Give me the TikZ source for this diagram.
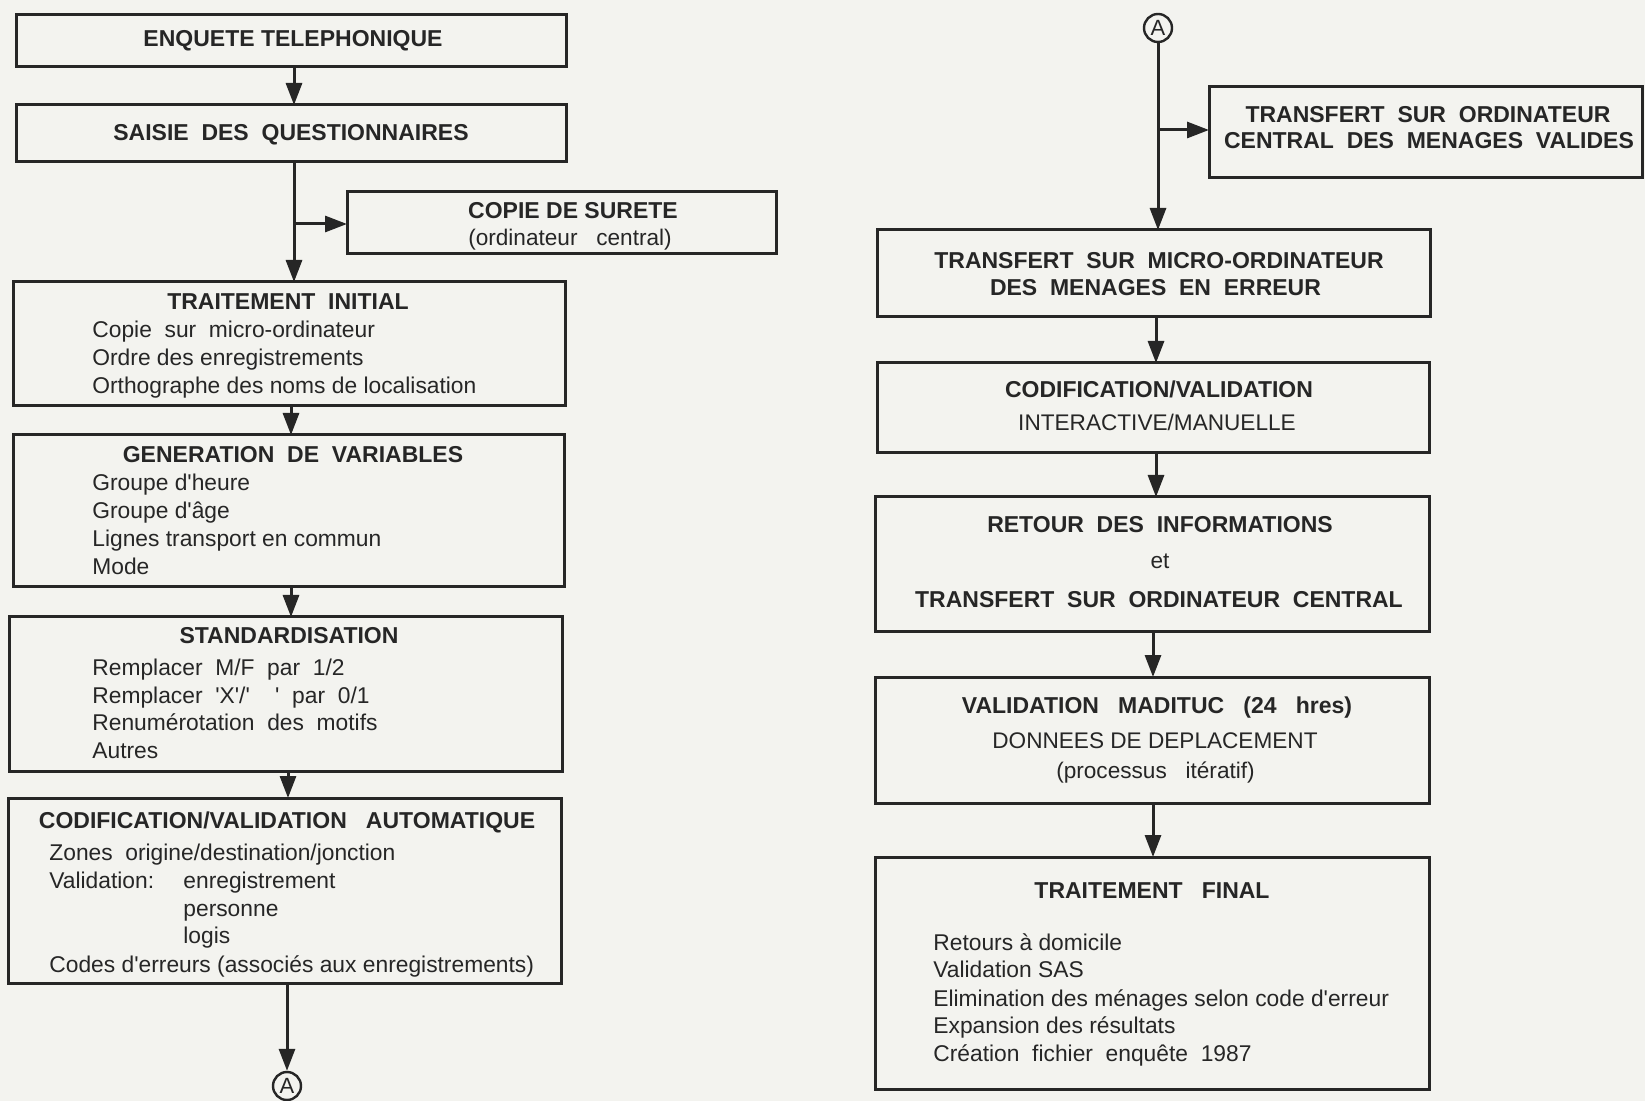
\documentclass[tikz,border=0pt]{standalone}
\usepackage{fontspec}
\setmainfont{Liberation Sans}[Ligatures=TeXOff]
\usetikzlibrary{arrows.meta}
\definecolor{bg}{RGB}{243,243,239}
\definecolor{ink}{RGB}{38,38,38}
\begin{document}
\begin{tikzpicture}[x=0.5pt,y=-0.5pt,
  bx/.style n args={2}{draw=ink, line width=1.5pt, inner sep=0pt, outer sep=0pt,
     minimum width=#1*0.5pt, minimum height=#2*0.5pt},
  tit/.style={font=\fontsize{11.5}{13}\selectfont\bfseries, text=ink, inner sep=0pt, anchor=mid},
  sub/.style={font=\fontsize{11.3}{13}\selectfont, text=ink, inner sep=0pt, anchor=mid},
  txt/.style={font=\fontsize{11.4}{13}\selectfont, text=ink, inner sep=0pt, anchor=mid west},
  arr/.style={draw=ink, line width=1.5pt, -{Triangle[length=11pt,width=8pt]}},
  con/.style={draw=ink, line width=1.2pt, circle, inner sep=0pt, minimum size=14pt,
     font=\fontsize{11}{12}\selectfont, text=ink}]
\fill[bg] (0,0) rectangle (1645,1101);
\useasboundingbox (0,0) rectangle (1645,1101);

% ---------------- left column ----------------
\node[bx={550}{52}] (b1) at (291,41) {};
\node[tit] (t1) at (293,41) {ENQUETE TELEPHONIQUE};

\node[bx={550}{57}] (b2) at (291,133.5) {};
\node[tit] (t2) at (291,135) {SAISIE\ \ DES\ \ QUESTIONNAIRES};

\node[bx={429}{62}] (cp) at (561.5,223) {};
\node[tit] (t3) at (573,213) {COPIE\ DE\ SURETE};
\node[sub] (t3b) at (570,240) {(ordinateur\ \ \ central)};

\node[bx={552}{124}] (b3) at (289,344) {};
\node[tit] (t4) at (288,304) {TRAITEMENT\ \ INITIAL};
\node[txt] (t4a) at (92,332) {Copie\ \ sur\ \ micro-ordinateur};
\node[txt] (t4b) at (92,360) {Ordre des enregistrements};
\node[txt] (t4c) at (92,388) {Orthographe des noms de localisation};

\node[bx={551}{152}] (b4) at (288.5,511) {};
\node[tit] (t5) at (293,457) {GENERATION\ \ DE\ \ VARIABLES};
\node[txt] (t5a) at (92,485) {Groupe d'heure};
\node[txt] (t5b) at (92,513) {Groupe d'âge};
\node[txt] (t5c) at (92,541) {Lignes transport en commun};
\node[txt] (t5d) at (92,569) {Mode};

\node[bx={553}{154}] (b5) at (285.5,694) {};
\node[tit] (t6) at (289,638) {STANDARDISATION};
\node[txt] (t6a) at (92,670) {Remplacer\ \ M/F\ \ par\ \ 1/2};
\node[txt] (t6b) at (92,698) {Remplacer\ \ 'X'/'\ \ \ \ '\ \ par\ \ 0/1};
\node[txt] (t6c) at (92,725) {Renumérotation\ \ des\ \ motifs};
\node[txt] (t6d) at (92,753) {Autres};

\node[bx={553}{185}] (b6) at (284.5,890.5) {};
\node[tit] (t7) at (287,823) {CODIFICATION/VALIDATION\ \ \ AUTOMATIQUE};
\node[txt] (t7a) at (49,855) {Zones\ \ origine/destination/jonction};
\node[txt] (t7b) at (49,883) {Validation:};
\node[txt] (t7c) at (183,883) {enregistrement};
\node[txt] (t7d) at (183,911) {personne};
\node[txt] (t7e) at (183,938) {logis};
\node[txt] (t7f) at (49,967) {Codes\ d'erreurs\ (associés\ aux\ enregistrements)};

\node[con] (Abot) at (287,1086) {A};

% ---------------- right column ----------------
\node[con] (Atop) at (1158,28) {A};

\node[bx={433}{91}] (r1) at (1425.5,132.5) {};
\node[tit] (u1) at (1428,117) {TRANSFERT\ \ SUR\ \ ORDINATEUR};
\node[tit] (u1b) at (1429,143) {CENTRAL\ \ DES\ \ MENAGES\ \ VALIDES};

\node[bx={553}{87}] (r2) at (1153.5,273.5) {};
\node[tit] (u2) at (1159,263) {TRANSFERT\ \ SUR\ \ MICRO-ORDINATEUR};
\node[tit] (u2b) at (1155.5,290) {DES\ \ MENAGES\ \ EN\ \ ERREUR};

\node[bx={552}{90}] (r3) at (1153,408) {};
\node[tit] (u3) at (1159,392) {CODIFICATION/VALIDATION};
\node[sub] (u3b) at (1157,425) {INTERACTIVE/MANUELLE};

\node[bx={554}{135}] (r4) at (1152,564.5) {};
\node[tit] (u4) at (1160,527) {RETOUR\ \ DES\ \ INFORMATIONS};
\node[sub] (u4b) at (1160,563) {et};
\node[tit] (u4c) at (1159,602) {TRANSFERT\ \ SUR\ \ ORDINATEUR\ \ CENTRAL};

\node[bx={554}{126}] (r5) at (1152,740) {};
\node[tit] (u5) at (1157,708) {VALIDATION\ \ \ MADITUC\ \ \ (24\ \ \ hres)};
\node[sub] (u5b) at (1155,743) {DONNEES DE DEPLACEMENT};
\node[sub] (u5c) at (1155.5,773) {(processus\ \ \ itératif)};

\node[bx={554}{232}] (r6) at (1152,973) {};
\node[tit] (u6) at (1152,893) {TRAITEMENT\ \ \ FINAL};
\node[txt] (u6a) at (933,945) {Retours à domicile};
\node[txt] (u6b) at (933,972) {Validation SAS};
\node[txt] (u6c) at (933,1001) {Elimination des ménages selon code d'erreur};
\node[txt] (u6d) at (933,1028) {Expansion des résultats};
\node[txt] (u6e) at (933,1056) {Création\ \ fichier\ \ enquête\ \ 1987};

% ---------------- connectors ----------------
\coordinate (c1) at (294,0);
\coordinate (c2) at (291,0);
\coordinate (c3) at (288,0);
\coordinate (j1) at (294,224);
\draw[arr] (b1.south -| c1) -- (b2.north -| c1);
\draw[arr] (b2.south -| c1) -- (b3.north -| c1);
\draw[arr] (j1) -- (j1 -| cp.west);
\draw[arr] (b3.south -| c2) -- (b4.north -| c2);
\draw[arr] (b4.south -| c2) -- (b5.north -| c2);
\draw[arr] (b5.south -| c3) -- (b6.north -| c3);
\draw[arr] (b6.south -| Abot) -- (Abot.north);

\coordinate (j2) at (1158,130);
\coordinate (c4) at (1156,0);
\coordinate (c5) at (1153,0);
\draw[arr] (Atop.south) -- (Atop.south |- r2.north);
\draw[arr] (j2) -- (j2 -| r1.west);
\draw[arr] (r2.south -| c4) -- (r3.north -| c4);
\draw[arr] (r3.south -| c4) -- (r4.north -| c4);
\draw[arr] (r4.south -| c5) -- (r5.north -| c5);
\draw[arr] (r5.south -| c5) -- (r6.north -| c5);
\end{tikzpicture}
\end{document}
